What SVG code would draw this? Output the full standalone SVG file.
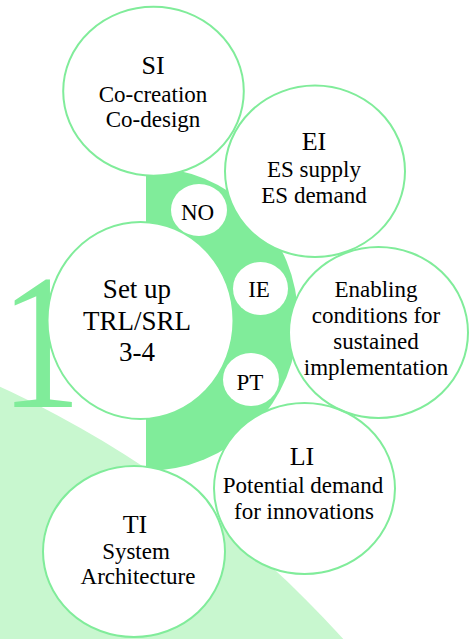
<svg xmlns="http://www.w3.org/2000/svg" width="469" height="639" viewBox="0 0 469 639">
<style>
.bg{fill:#c8f7cf}
.accent{fill:#80ec9a}
.disc{fill:#fff}
.ring{fill:none;stroke:#80ec9a;stroke-width:2}
text{font-family:"Liberation Serif","Times New Roman",serif;fill:#000;text-anchor:middle}
.h{font-size:26px}
.b{font-size:23px}
.big{font-size:27px}
.one{font-size:192px;fill:#80ec9a;text-anchor:start}
</style>
<rect width="469" height="639" fill="#fff"/>
<g id="background">
<circle class="bg" cx="-442" cy="1348" r="1058"/>
<text class="one" x="0" y="407" transform="scale(0.85 1)">1</text>
<path id="band" class="accent" d="M146,167 A152,152 0 0 1 146,471 Z"/>
</g>
<g id="node-fills">
<ellipse class="disc" cx="153.5" cy="91.2" rx="90.3" ry="84.5"/>
<ellipse class="disc" cx="315" cy="171.3" rx="90" ry="85.7"/>
<ellipse class="disc" cx="140.5" cy="320.5" rx="93" ry="98.5"/>
<ellipse class="disc" cx="378.5" cy="332.5" rx="89.5" ry="85.5"/>
<ellipse class="disc" cx="304.5" cy="488.5" rx="90.5" ry="85.5"/>
<ellipse class="disc" cx="134" cy="551.5" rx="91" ry="85.5"/>
</g>
<g id="node-SI">
<ellipse class="ring" cx="153.5" cy="91.2" rx="90.3" ry="84.5"/>
<text class="h" x="153" y="74">SI</text>
<text class="b" x="153" y="102">Co-creation</text>
<text class="b" x="153" y="127">Co-design</text>
</g>
<g id="node-EI">
<ellipse class="ring" cx="315" cy="171.3" rx="90" ry="85.7"/>
<text class="h" x="314" y="150">EI</text>
<text class="b" x="314" y="177">ES supply</text>
<text class="b" x="314" y="203">ES demand</text>
</g>
<g id="node-setup">
<ellipse class="ring" cx="140.5" cy="320.5" rx="93" ry="98.5"/>
<text class="big" x="137" y="298">Set up</text>
<text class="big" x="137" y="330">TRL/SRL</text>
<text class="big" x="137" y="361">3-4</text>
</g>
<g id="node-enabling">
<ellipse class="ring" cx="378.5" cy="332.5" rx="89.5" ry="85.5"/>
<text class="b" x="376" y="297">Enabling</text>
<text class="b" x="376" y="323">conditions for</text>
<text class="b" x="376" y="349">sustained</text>
<text class="b" x="376" y="375">implementation</text>
</g>
<g id="node-LI">
<ellipse class="ring" cx="304.5" cy="488.5" rx="90.5" ry="85.5"/>
<text class="h" x="302" y="465">LI</text>
<text class="b" x="303" y="493">Potential demand</text>
<text class="b" x="304" y="519">for innovations</text>
</g>
<g id="node-TI">
<ellipse class="ring" cx="134" cy="551.5" rx="91" ry="85.5"/>
<text class="h" x="135" y="533">TI</text>
<text class="b" x="136" y="559">System</text>
<text class="b" x="138" y="584">Architecture</text>
</g>
<g id="node-NO">
<ellipse class="disc" cx="199" cy="210" rx="28" ry="26"/>
<text class="b" x="197.5" y="220">NO</text>
</g>
<g id="node-IE">
<ellipse class="disc" cx="260.5" cy="288.5" rx="27.5" ry="26.5"/>
<text class="b" x="259" y="297">IE</text>
</g>
<g id="node-PT">
<ellipse class="disc" cx="251" cy="379.5" rx="28" ry="26.5"/>
<text class="b" x="250" y="390">PT</text>
</g>
</svg>
